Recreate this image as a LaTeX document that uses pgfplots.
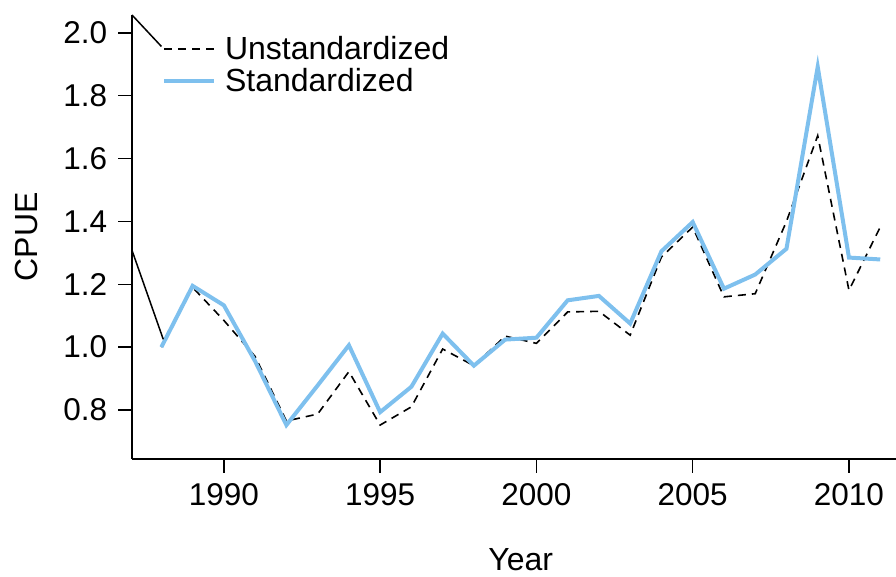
\documentclass[border=0pt]{standalone}
\usepackage{pgfplots}
\pgfplotsset{compat=1.18}
\usepackage{fontspec}
\setmainfont{Liberation Sans}
\definecolor{skyb}{RGB}{126,192,238}
\begin{document}
\begin{tikzpicture}
\fontsize{15.75}{18.9}\selectfont
\begin{axis}[
  at={(0,0)}, anchor=south west,
  scale only axis, width=388.8pt, height=222pt,
  xmin=1987.06, xmax=2011.94, ymin=0.644, ymax=2.057,
  axis x line*=bottom, axis y line*=left,
  axis line style={line width=0.9pt, -},
  tick align=outside, major tick length=7pt,
  tick style={line width=0.75pt, black},
  xtick={1990,1995,2000,2005,2010},
  ytick={0.8,1.0,1.2,1.4,1.6,1.8,2.0},
  xticklabel style={/pgf/number format/1000 sep={}},
  yticklabel style={/pgf/number format/.cd, fixed, fixed zerofill, precision=1},
  /pgf/number format/assume math mode=true,
  ticklabel style={font=\fontsize{15.75}{18.9}\selectfont},
  label style={font=\fontsize{16}{19.2}\selectfont},
  xlabel={Year}, ylabel={CPUE},
  xlabel style={at={(axis description cs:0.5,0)}, anchor=base, yshift=-56pt},
  ylabel style={at={(axis description cs:0,0.5)}, anchor=base, yshift=47pt},
  clip=true,
  legend style={draw=none, fill=none, at={(axis description cs:0.0386,0.953)}, anchor=north west,
    inner sep=0pt, outer sep=0pt, row sep=0pt,
    font=\fontsize{16}{19.2}\selectfont,
    nodes={inner sep=0pt, text height=12pt, text depth=4pt}},
  legend cell align=left,
  legend image code/.code={\draw[#1] (0pt,1.5pt) -- (25pt,1.5pt); \path (29.5pt,0pt);},
]
\addplot[black, line width=0.8pt, dash pattern=on 4pt off 3pt] coordinates {
(1988,1.00) (1989,1.19) (1990,1.085) (1991,0.97) (1992,0.765) (1993,0.787)
(1994,0.922) (1995,0.752) (1996,0.81) (1997,0.994) (1998,0.941) (1999,1.035)
(2000,1.012) (2001,1.112) (2002,1.114) (2003,1.038) (2004,1.287) (2005,1.382)
(2006,1.16) (2007,1.17) (2008,1.40) (2009,1.673) (2010,1.181) (2011,1.382)};
\addlegendentry{Unstandardized}
\addplot[skyb, line width=2pt] coordinates {
(1988,1.00) (1989,1.195) (1990,1.133) (1991,0.955) (1992,0.752) (1993,0.878)
(1994,1.006) (1995,0.793) (1996,0.874) (1997,1.043) (1998,0.941) (1999,1.024)
(2000,1.03) (2001,1.149) (2002,1.163) (2003,1.075) (2004,1.305) (2005,1.398)
(2006,1.186) (2007,1.231) (2008,1.313) (2009,1.892) (2010,1.285) (2011,1.279)};
\addlegendentry{Standardized}
\addplot[black, line width=0.75pt, forget plot] coordinates {(1987.06,2.057) (1988,1.957)};
\addplot[black, line width=0.75pt, forget plot] coordinates {(1987.06,1.308) (1988.06,1.025)};
\end{axis}
\pgfresetboundingbox
\useasboundingbox (-66pt,-59pt) rectangle (382pt,229.5pt);
\end{tikzpicture}
\end{document}
